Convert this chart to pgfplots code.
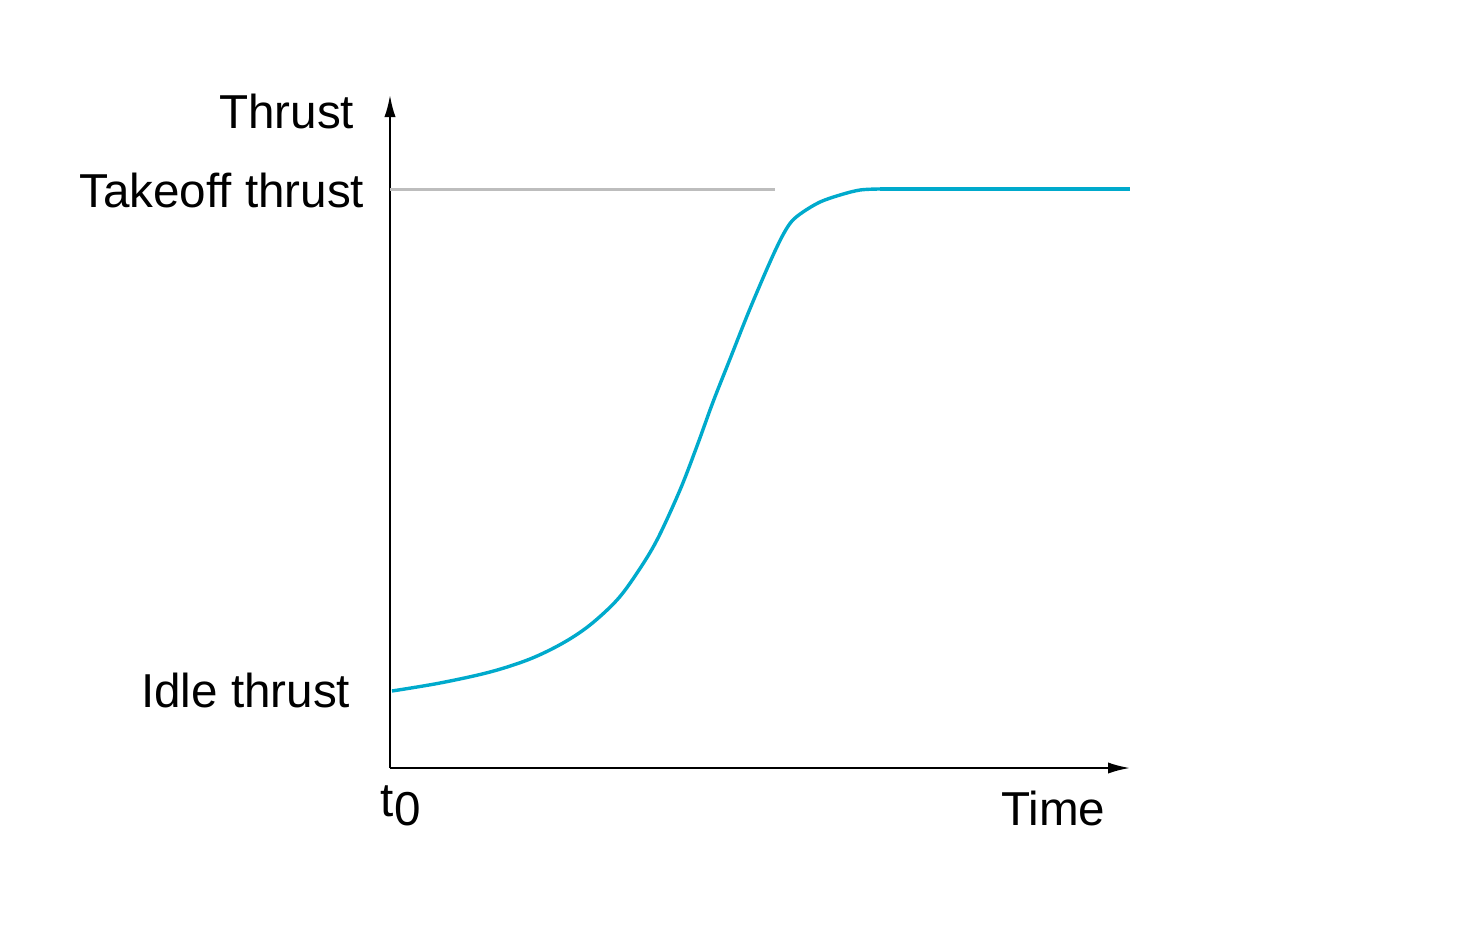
\documentclass[border=0pt]{standalone}
\usepackage{pgfplots}
\pgfplotsset{compat=1.18}
\usetikzlibrary{arrows.meta}
\usepackage{fontspec}
\setmainfont{Liberation Sans}
\definecolor{curvecol}{HTML}{00AACC}
\definecolor{refgray}{HTML}{BDBDBD}
\begin{document}
\begin{tikzpicture}
\path (0pt,0pt) rectangle (364.5pt,231.25pt);
\begin{axis}[
  at={(97.5pt,39.25pt)}, anchor=south west,
  x=0.25pt, y=0.25pt,
  xmin=0, xmax=740, ymin=0, ymax=673,
  axis lines=left,
  axis line style={line width=0.5pt, -{Latex[length=5.5pt,width=2.8pt]}},
  xtick=\empty, ytick=\empty,
  clip=false,
  font=\fontsize{11.9}{14}\selectfont,
]
\addplot[refgray, line width=0.75pt] coordinates {(0,579) (385,579)};
\addplot[curvecol, line width=0.85pt, smooth, tension=0.55] coordinates {
(2,77) (50,85) (100,96) (140,109) (173,125) (200,143) (227,168) (247,195)
(267,228) (290,278) (307,322) (323,366) (340,409) (357,452) (373,490)
(385,517) (394,535) (402,547) (413,556) (430,566) (450,573) (470,578) (490,579)};
\addplot[curvecol, line width=0.85pt] coordinates {(490,579) (740,579)};
\node[anchor=east, inner sep=0pt] at (axis cs:-35,657) {Thrust};
\node[anchor=east, inner sep=0pt] at (axis cs:-25,578) {Takeoff thrust};
\node[anchor=east, inner sep=0pt] at (axis cs:-39,78) {Idle thrust};
\node[anchor=east, inner sep=0pt] at (axis cs:716,-40) {Time};
\node[anchor=west, inner sep=0pt] at (axis cs:-10,-38) {t\raisebox{-0.35ex}{0}};
\end{axis}
\end{tikzpicture}
\end{document}
